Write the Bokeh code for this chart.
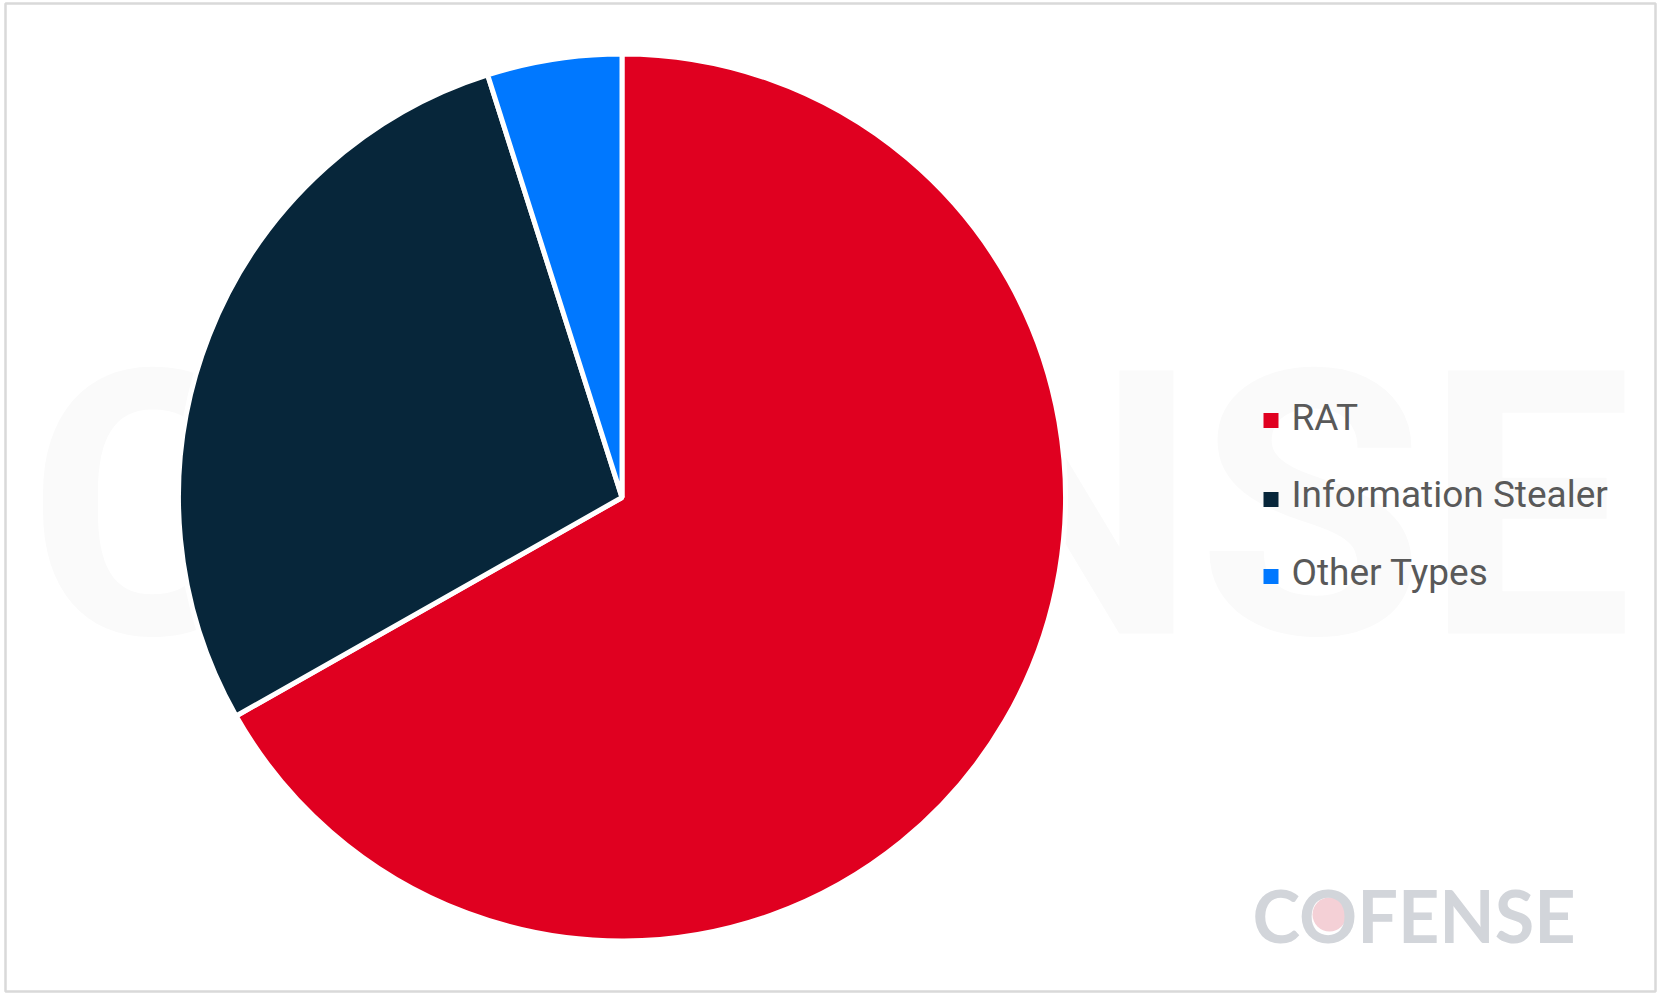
import numpy as np
from bokeh.plotting import figure
from bokeh.models import Range1d, ColumnDataSource
from bokeh.core.properties import value
from bokeh.embed import file_html
from bokeh.resources import INLINE

# ---- data ----
categories = ["RAT", "Information Stealer", "Other Types"]
shares = [66.8, 28.3, 4.9]
colors = ["#E00020", "#07263A", "#0078FF"]
brand = "COFENSE"

# ---- layout (page pixels; the page has no margin) ----
PAGE_H = 1003
FX0, FX1, FY0, FY1 = 5, 1655, 3, 991

def Y(py):
    return PAGE_H - py

def TB(py, size, shift=0.36):
    return Y(py - shift * size)

p = figure(width=1660, height=996, output_backend="svg", toolbar_location=None,
           x_range=Range1d(FX0, FX1), y_range=Range1d(Y(FY1), Y(FY0)),
           min_border_left=FX0, min_border_right=1660 - FX1,
           min_border_top=FY0, min_border_bottom=996 - FY1)
p.axis.visible = False
p.grid.visible = False
p.outline_line_color = "#d9d9d9"
p.outline_line_width = 2.5
p.background_fill_color = "white"
p.border_fill_color = "white"

# watermark
WM = 370
p.text(x=[27], y=[TB(636, WM, 0.35)], text=[brand], text_font=value("Roboto"),
       text_font_style="bold", text_font_size=f"{WM}px", text_color="#fafafa",
       text_baseline="alphabetic", text_align="left")

# pie
vals = np.array(shares, dtype=float)
frac = vals / vals.sum()
ends = np.cumsum(frac)
starts = ends - frac
start_angle = np.pi / 2 - 2 * np.pi * starts
end_angle = np.pi / 2 - 2 * np.pi * ends
src = ColumnDataSource(dict(cat=categories, start=start_angle, end=end_angle, color=colors))
p.wedge(x=621.5, y=Y(497), radius=443.5, start_angle="start", end_angle="end",
        direction="clock", fill_color="color", line_color="white", line_width=5,
        source=src)

# legend
LS = 37
ly = [430, 507.5, 585]
sy = [420, 499, 576]
p.rect(x=[1270.5] * 3, y=[Y(v) for v in sy], width=15, height=15,
       fill_color=colors, line_color=None)
p.text(x=[1291] * 3, y=[TB(v, LS) for v in ly], text=categories, text_font=value("Roboto"),
       text_font_size=f"{LS}px", text_color="#595959", text_baseline="alphabetic",
       text_align="left")

# logo
LG = 72
p.circle(x=[1329], y=[Y(914)], radius=17, fill_color="#f4d0d6", line_color=None)
p.text(x=[1252], y=[TB(940, LG)], text=[brand], text_font=value("Lato"),
       text_font_style="bold", text_font_size=f"{LG}px", text_color="#d2d5da",
       text_baseline="alphabetic", text_align="left")

open("out.html", "w").write(file_html(p, INLINE))
